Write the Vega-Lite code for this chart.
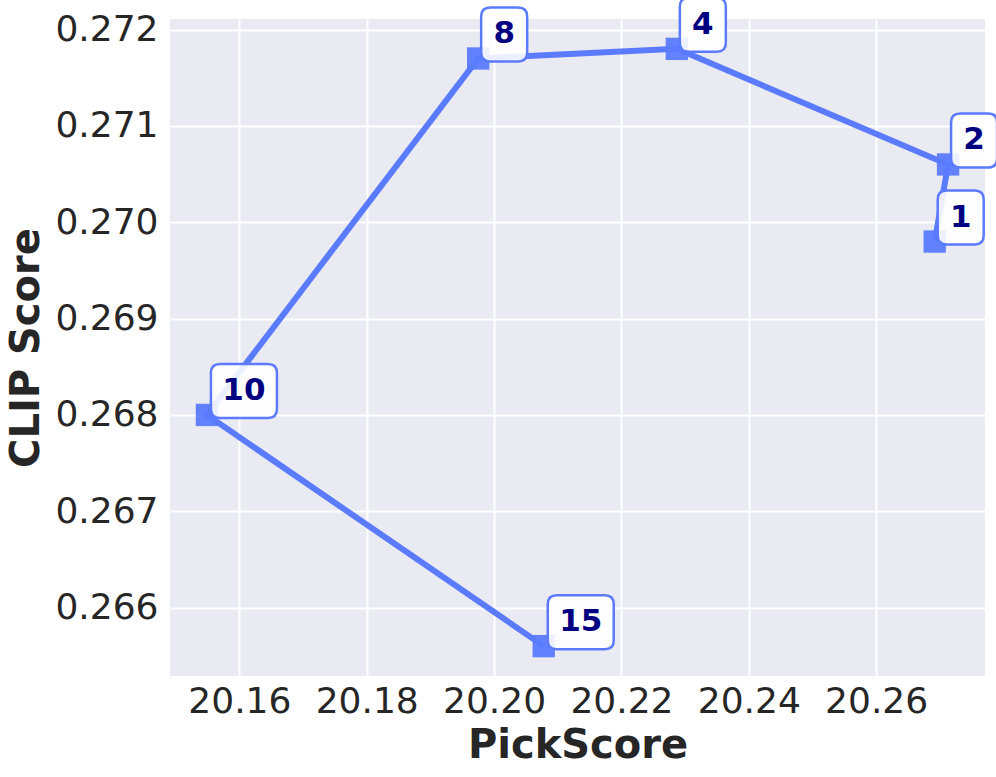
{
  "$schema": "https://vega.github.io/schema/vega-lite/v6.json",
  "width": 815,
  "height": 657,
  "autosize": "none",
  "padding": {"left": 170, "top": 19, "right": 11, "bottom": 101},
  "background": "white",
  "config": {
    "font": "DejaVu Sans",
    "view": {"fill": "#eaeaf2", "stroke": null},
    "axis": {
      "domain": false,
      "ticks": false,
      "grid": true,
      "gridColor": "white",
      "gridWidth": 2,
      "labelFont": "DejaVu Sans",
      "labelFontSize": 36,
      "labelColor": "#262626",
      "titleFont": "DejaVu Sans",
      "titleFontSize": 40,
      "titleFontWeight": "bold",
      "titleColor": "#262626"
    }
  },
  "data": {
    "values": [
      {"steps": 1, "pick": 20.2692, "clip": 0.2698},
      {"steps": 2, "pick": 20.2713, "clip": 0.2706},
      {"steps": 4, "pick": 20.2287, "clip": 0.2718},
      {"steps": 8, "pick": 20.1975, "clip": 0.2717},
      {"steps": 10, "pick": 20.1549, "clip": 0.268},
      {"steps": 15, "pick": 20.2078, "clip": 0.2656}
    ]
  },
  "encoding": {
    "x": {
      "field": "pick",
      "type": "quantitative",
      "title": "PickScore",
      "scale": {"domain": [20.1491, 20.2771], "nice": false, "zero": false},
      "axis": {"values": [20.16, 20.18, 20.2, 20.22, 20.24, 20.26], "format": ".2f", "labelPadding": 8, "titlePadding": 6}
    },
    "y": {
      "field": "clip",
      "type": "quantitative",
      "title": "CLIP Score",
      "scale": {"domain": [0.26529, 0.27211], "nice": false, "zero": false},
      "axis": {"values": [0.266, 0.267, 0.268, 0.269, 0.27, 0.271, 0.272], "format": ".3f", "labelPadding": 12, "titlePadding": 8}
    }
  },
  "layer": [
    {
      "mark": {"type": "line", "color": "#5b7bff", "strokeWidth": 6},
      "encoding": {"order": {"field": "steps", "type": "quantitative"}}
    },
    {
      "mark": {"type": "point", "shape": "square", "filled": true, "size": 500, "color": "#5b7bff", "opacity": 0.95}
    },
    {
      "transform": [{"filter": "datum.steps < 10"}],
      "mark": {
        "type": "point",
        "shape": "M -14 -27 H 14 Q 23 -27 23 -18 V 18 Q 23 27 14 27 H -14 Q -23 27 -23 18 V -18 Q -23 -27 -14 -27 Z",
        "size": 4,
        "filled": true,
        "fill": "white",
        "fillOpacity": 0.88,
        "stroke": "#5b7bff",
        "strokeWidth": 2.5,
        "strokeOpacity": 1,
        "xOffset": 26,
        "yOffset": -24
      }
    },
    {
      "transform": [{"filter": "datum.steps >= 10"}],
      "mark": {
        "type": "point",
        "shape": "M -24 -27 H 24 Q 33 -27 33 -18 V 18 Q 33 27 24 27 H -24 Q -33 27 -33 18 V -18 Q -33 -27 -24 -27 Z",
        "size": 4,
        "filled": true,
        "fill": "white",
        "fillOpacity": 0.88,
        "stroke": "#5b7bff",
        "strokeWidth": 2.5,
        "strokeOpacity": 1,
        "xOffset": 37,
        "yOffset": -24
      }
    },
    {
      "transform": [{"filter": "datum.steps < 10"}],
      "mark": {"type": "text", "font": "DejaVu Sans", "fontWeight": "bold", "fontSize": 31, "color": "#000080", "align": "center", "baseline": "middle", "xOffset": 26, "yOffset": -24},
      "encoding": {"text": {"field": "steps", "type": "nominal"}}
    },
    {
      "transform": [{"filter": "datum.steps >= 10"}],
      "mark": {"type": "text", "font": "DejaVu Sans", "fontWeight": "bold", "fontSize": 31, "color": "#000080", "align": "center", "baseline": "middle", "xOffset": 37, "yOffset": -24},
      "encoding": {"text": {"field": "steps", "type": "nominal"}}
    }
  ]
}
